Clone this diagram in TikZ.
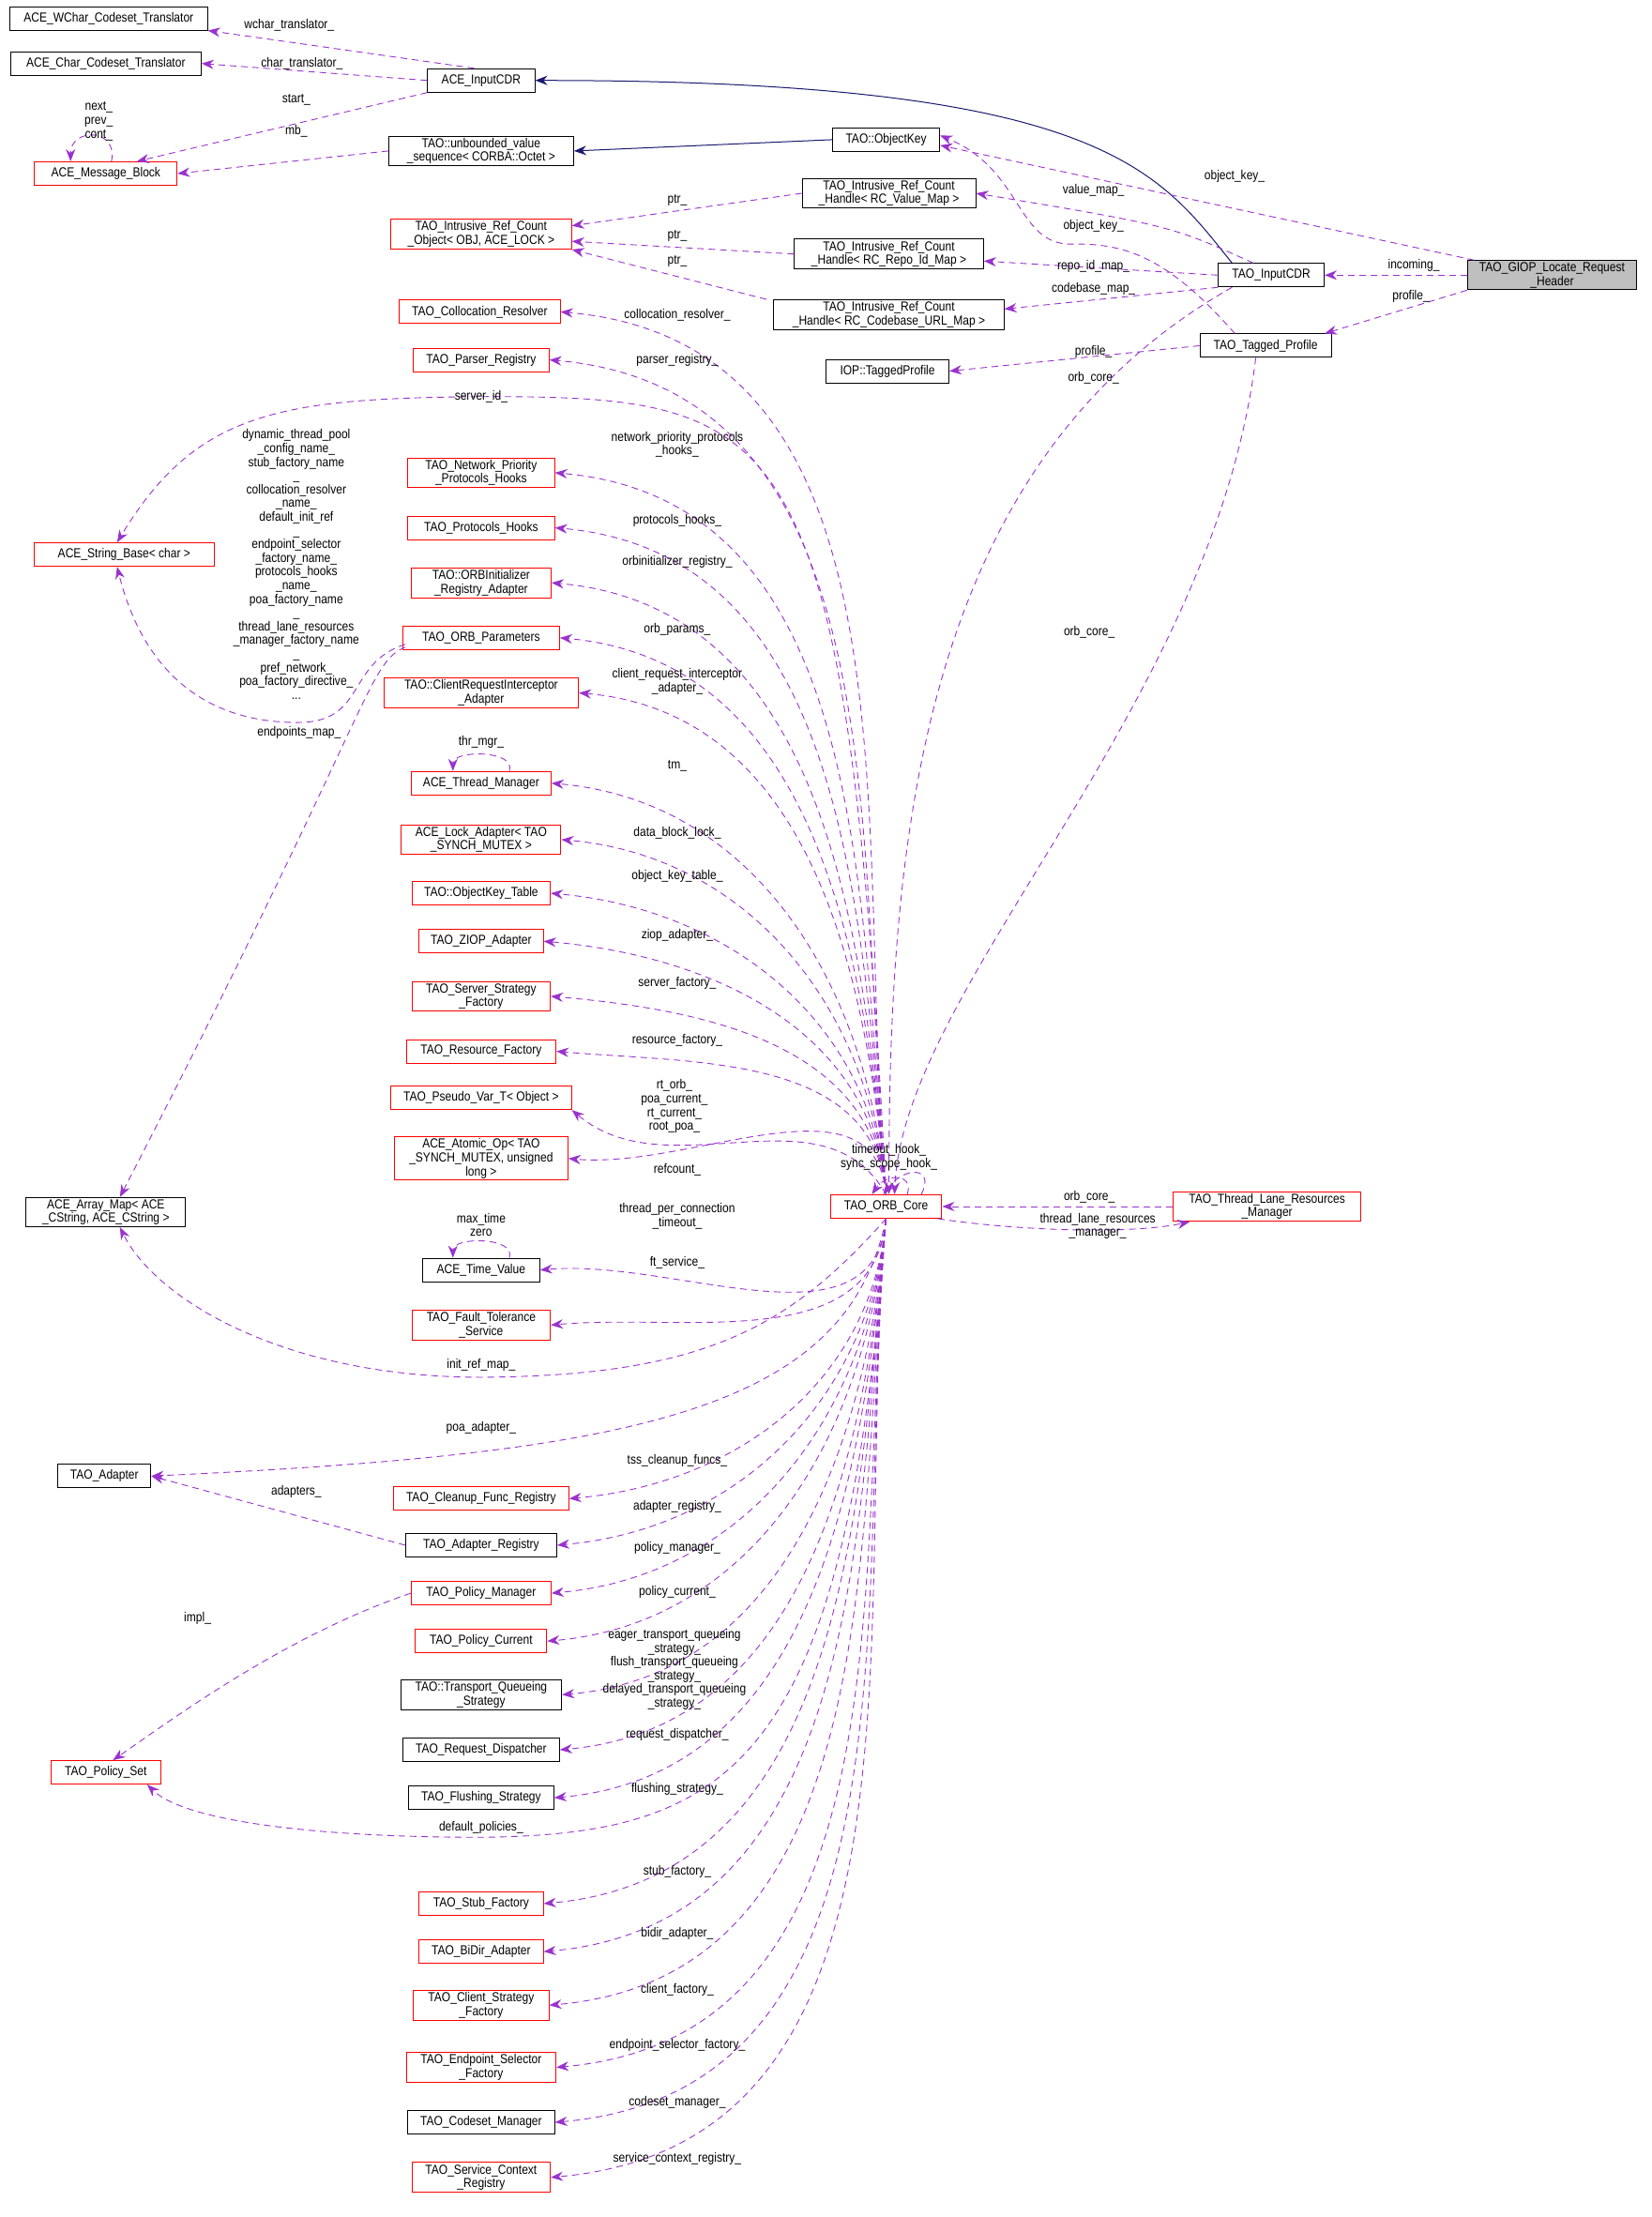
\documentclass[tikz,border=0pt]{standalone}
\usepackage{fontspec}
\setmainfont[FakeStretch=0.86]{Liberation Sans}
\usetikzlibrary{arrows.meta,calc}
\definecolor{dep}{HTML}{9A32CD}
\definecolor{inh}{HTML}{191970}
\begin{document}
\begin{tikzpicture}[x=1.504pt,y=-1.504pt,
  every node/.style={font=\fontsize{14}{14.6}\selectfont,align=center,inner sep=2pt},
  box/.style={draw=black,line width=1pt,fill=white,minimum height=25pt},
  rbox/.style={box,draw=red},
  bw/.style={minimum width=#1*1.504pt},
  dep/.style={draw=dep,line width=0.9pt,dash pattern=on 7pt off 5pt,-{Stealth[length=13pt,width=10pt,fill=dep]}},
  inhe/.style={draw=inh,line width=1pt,-{Stealth[length=13pt,width=10pt,fill=inh]}},
  lab/.style={inner sep=0pt}]
\fill[white] (0,0) rectangle (1170.2,1571.1);
\useasboundingbox (0,0) rectangle (1170.2,1571.1);
% left column
\node[box,bw=140] (wchar) at (77,13) {ACE\_WChar\_Codeset\_Translator};
\node[box,bw=135] (char) at (75,45) {ACE\_Char\_Codeset\_Translator};
\node[rbox,bw=101] (mb) at (75,123) {ACE\_Message\_Block};
\node[rbox,bw=128] (sb) at (88,393) {ACE\_String\_Base< char >};
\node[box,bw=113] (am) at (75,859) {ACE\_Array\_Map< ACE\\\_CString, ACE\_CString >};
\node[box,bw=66] (ad) at (74,1046) {TAO\_Adapter};
\node[rbox,bw=78] (ps) at (75,1256) {TAO\_Policy\_Set};
% column 2
\node[box,bw=76] (aic) at (341,57) {ACE\_InputCDR};
\node[box,bw=131] (ubs) at (341,107) {TAO::unbounded\_value\\\_sequence< CORBA::Octet >};
\node[rbox,bw=128] (iro) at (341,166) {TAO\_Intrusive\_Ref\_Count\\\_Object< OBJ, ACE\_LOCK >};
\node[rbox,bw=114] (t1) at (340,221) {TAO\_Collocation\_Resolver};
\node[rbox,bw=96] (t2) at (341,255) {TAO\_Parser\_Registry};
\node[rbox,bw=104] (t3) at (341,335) {TAO\_Network\_Priority\\\_Protocols\_Hooks};
\node[rbox,bw=104] (t4) at (341,374) {TAO\_Protocols\_Hooks};
\node[rbox,bw=99] (t5) at (341,413) {TAO::ORBInitializer\\\_Registry\_Adapter};
\node[rbox,bw=111] (t6) at (341,452) {TAO\_ORB\_Parameters};
\node[rbox,bw=138] (t7) at (341,491) {TAO::ClientRequestInterceptor\\\_Adapter};
\node[rbox,bw=99] (t8) at (341,555) {ACE\_Thread\_Manager};
\node[rbox,bw=113] (t9) at (341,595) {ACE\_Lock\_Adapter< TAO\\\_SYNCH\_MUTEX >};
\node[rbox,bw=98] (t10) at (341,633) {TAO::ObjectKey\_Table};
\node[rbox,bw=88] (t11) at (341,667) {TAO\_ZIOP\_Adapter};
\node[rbox,bw=98] (t12) at (341,706) {TAO\_Server\_Strategy\\\_Factory};
\node[rbox,bw=106] (t13) at (341,745) {TAO\_Resource\_Factory};
\node[rbox,bw=128] (t14) at (341,778) {TAO\_Pseudo\_Var\_T< Object >};
\node[rbox,bw=123] (t15) at (341,821) {ACE\_Atomic\_Op< TAO\\\_SYNCH\_MUTEX, unsigned\\ long >};
\node[box,bw=83] (t16) at (341,900) {ACE\_Time\_Value};
\node[rbox,bw=98] (t17) at (341,939) {TAO\_Fault\_Tolerance\\\_Service};
\node[rbox,bw=124] (t18) at (341,1062) {TAO\_Cleanup\_Func\_Registry};
\node[box,bw=107] (t19) at (341,1095) {TAO\_Adapter\_Registry};
\node[rbox,bw=99] (t20) at (341,1129) {TAO\_Policy\_Manager};
\node[rbox,bw=93] (t21) at (341,1163) {TAO\_Policy\_Current};
\node[box,bw=114] (t22) at (341,1201) {TAO::Transport\_Queueing\\\_Strategy};
\node[box,bw=111] (t23) at (341,1240) {TAO\_Request\_Dispatcher};
\node[box,bw=103] (t24) at (341,1274) {TAO\_Flushing\_Strategy};
\node[rbox,bw=88] (t25) at (341,1349) {TAO\_Stub\_Factory};
\node[rbox,bw=88] (t26) at (341,1383) {TAO\_BiDir\_Adapter};
\node[rbox,bw=96] (t27) at (341,1421) {TAO\_Client\_Strategy\\\_Factory};
\node[rbox,bw=106] (t28) at (341,1465) {TAO\_Endpoint\_Selector\\\_Factory};
\node[box,bw=104] (t29) at (341,1504) {TAO\_Codeset\_Manager};
\node[rbox,bw=98] (t30) at (341,1543) {TAO\_Service\_Context\\\_Registry};
% column 3
\node[box,bw=76] (ok) at (628,99) {TAO::ObjectKey};
\node[box,bw=123] (rcv) at (630,137) {TAO\_Intrusive\_Ref\_Count\\\_Handle< RC\_Value\_Map >};
\node[box,bw=134] (rcr) at (630,180) {TAO\_Intrusive\_Ref\_Count\\\_Handle< RC\_Repo\_Id\_Map >};
\node[box,bw=163] (rcc) at (630,223) {TAO\_Intrusive\_Ref\_Count\\\_Handle< RC\_Codebase\_URL\_Map >};
\node[box,bw=87] (iop) at (629,263) {IOP::TaggedProfile};
\node[rbox,bw=79] (oc) at (628,855) {TAO\_ORB\_Core};
\node[rbox,bw=133] (tl) at (898,855) {TAO\_Thread\_Lane\_Resources\\\_Manager};
% column 4
\node[box,bw=75] (tic) at (901,195) {TAO\_InputCDR};
\node[box,bw=93] (tp) at (897,245) {TAO\_Tagged\_Profile};
\node[box,bw=120,fill=black!25] (giop) at (1100,195) {TAO\_GIOP\_Locate\_Request\\\_Header};
% inheritance
\draw[inhe] ($(tic.north west)+(10,0)$) .. controls (820,120) and (780,57) .. (aic.east);
\draw[inhe] (ok.west) -- (ubs.east);
% top-left edges
\draw[dep] ($(aic.north)+(-5,0)$) -- (wchar.south east);
\draw[dep] (aic.west) -- (char.east);
\draw[dep] (aic.south west) -- ($(mb.north)+(22,0)$);
\draw[dep] (ubs.west) -- (mb.east);
\draw[dep] ($(mb.north)+(4,0)$) .. controls +(5,-24) and +(0,-24) .. ($(mb.north)+(-25,0)$);
\node[lab] at (70,86) {next\_\\prev\_\\cont\_};
\node[lab] at (205,18) {wchar\_translator\_};
\node[lab] at (214,45) {char\_translator\_};
\node[lab] at (210,71) {start\_};
\node[lab] at (210,93) {mb\_};
% ref count handles
\draw[dep] (rcv.west) -- ($(iro.east)+(0,-6)$);
\node[lab] at (480,142) {ptr\_};
\draw[dep] (rcr.west) -- ($(iro.east)+(0,5)$);
\node[lab] at (480,167) {ptr\_};
\draw[dep] ($(rcc.north west)+(-5,0)$) -- (iro.south east);
\node[lab] at (480,185) {ptr\_};
% TAO_InputCDR
\draw[dep] ($(tic.north west)+(25,0)$) .. controls (830,160) .. (rcv.east);
\node[lab] at (775,135) {value\_map\_};
\draw[dep] (tic.west) -- ($(rcr.east)+(0,5)$);
\node[lab] at (775,189) {repo\_id\_map\_};
\draw[dep] (tic.south west) -- ($(rcc.east)+(0,-4)$);
\node[lab] at (775,205) {codebase\_map\_};
\draw[dep] ($(tic.south west)+(10,0)$) .. controls (650,330) and (630,600) .. ($(oc.north)+(2,0)$);
\node[lab] at (775,268) {orb\_core\_};
% GIOP
\draw[dep] ($(giop.north west)+(5,0)$) -- ($(ok.east)+(0,4)$);
\node[lab] at (875,125) {object\_key\_};
\draw[dep] (giop.west) -- (tic.east);
\node[lab] at (1002,188) {incoming\_};
\draw[dep] (giop.south west) -- ($(tp.north east)+(-5,0)$);
\node[lab] at (1000,210) {profile\_};
% Tagged profile
\draw[dep] ($(tp.north west)+(25,0)$) .. controls (830,185) and (800,172) .. (760,173) .. controls (720,174) and (725,120) .. ($(ok.east)+(0,-3)$);
\node[lab] at (775,160) {object\_key\_};
\draw[dep] (tp.west) -- (iop.east);
\node[lab] at (775,249) {profile\_};
\draw[dep] ($(tp.south)+(-7,0)$) .. controls (860,500) and (640,700) .. ($(oc.north)+(6,0)$);
\node[lab] at (772,448) {orb\_core\_};
% orb core -> column 2 (above)
\foreach \t/\l/\ly in {t1/collocation\_resolver\_/223, t2/parser\_registry\_/255, t3/{network\_priority\_protocols\\\_hooks\_}/315, t4/protocols\_hooks\_/369, t5/orbinitializer\_registry\_/398, t6/orb\_params\_/446, t7/{client\_request\_interceptor\\\_adapter\_}/483, t8/tm\_/543, t9/data\_block\_lock\_/590, t10/object\_key\_table\_/621, t11/ziop\_adapter\_/663, t12/server\_factory\_/697, t13/resource\_factory\_/737, t15/refcount\_/829}{
  \draw[dep] (oc.north) to[out=95,in=-5] (\t.east);
  \node[lab] at (480,\ly) {\l};
}
\draw[dep] (oc.north) to[out=120,in=-40] (t14.south east);
\node[lab] at (478,784) {rt\_orb\_\\poa\_current\_\\rt\_current\_\\root\_poa\_};
% below
\foreach \t/\l/\ly in {t16/{thread\_per\_connection\\\_timeout\_}/862, t17/ft\_service\_/895, t18/tss\_cleanup\_funcs\_/1035, t19/adapter\_registry\_/1068, t20/policy\_manager\_/1097, t21/policy\_current\_/1128, t23/request\_dispatcher\_/1229, t24/flushing\_strategy\_/1268, t25/stub\_factory\_/1326, t26/bidir\_adapter\_/1370, t27/client\_factory\_/1410, t28/endpoint\_selector\_factory\_/1449, t29/codeset\_manager\_/1490, t30/service\_context\_registry\_/1530}{
  \draw[dep] (oc.south) to[out=-95,in=5] (\t.east);
  \node[lab] at (480,\ly) {\l};
}
\draw[dep] (oc.south) to[out=-95,in=5] (t22.east);
\node[lab] at (478,1183) {eager\_transport\_queueing\\\_strategy\_\\flush\_transport\_queueing\\\_strategy\_\\delayed\_transport\_queueing\\\_strategy\_};
% self loops
\draw[dep] ($(t8.north)+(20,0)$) .. controls +(5,-15) and +(0,-15) .. ($(t8.north)+(-20,0)$);
\node[lab] at (341,526) {thr\_mgr\_};
\draw[dep] ($(t16.north)+(20,0)$) .. controls +(5,-15) and +(0,-15) .. ($(t16.north)+(-20,0)$);
\node[lab] at (341,868) {max\_time\\zero};
\draw[dep] ($(oc.north)+(15,0)$) .. controls +(5,-15) and +(10,-15) .. ($(oc.north)+(-10,0)$);
\draw[dep] ($(oc.north)+(25,0)$) .. controls +(10,-20) and +(15,-20) .. ($(oc.north)+(-2,0)$);
\node[lab] at (630,820) {timeout\_hook\_\\sync\_scope\_hook\_};
% thread lane
\draw[dep] (tl.west) -- (oc.east);
\node[lab] at (772,848) {orb\_core\_};
\draw[dep] ($(oc.south east)+(-3,0)$) .. controls (720,872) and (800,875) .. ($(tl.south west)+(12,0)$);
\node[lab] at (778,869) {thread\_lane\_resources\\\_manager\_};
% string base
\draw[dep] (oc.north) .. controls (600,300) and (560,282) .. (350,281) .. controls (200,282) and (140,290) .. ($(sb.north)+(-5,0)$);
\node[lab] at (341,281) {server\_id\_};
\draw[dep] ($(t6.south west)+(2,-4)$) .. controls (245,470) and (260,512) .. (211,512) .. controls (140,512) and (100,470) .. ($(sb.south)+(-5,0)$);
\node[lab] at (210,400) {dynamic\_thread\_pool\\\_config\_name\_\\stub\_factory\_name\\\_\\collocation\_resolver\\\_name\_\\default\_init\_ref\\\_\\endpoint\_selector\\\_factory\_name\_\\protocols\_hooks\\\_name\_\\poa\_factory\_name\\\_\\thread\_lane\_resources\\\_manager\_factory\_name\\\_\\pref\_network\_\\poa\_factory\_directive\_\\...};
\draw[dep] ($(t6.south west)+(2,-2)$) .. controls (260,470) and (265,500) .. ($(am.north)+(10,0)$);
\node[lab] at (212,519) {endpoints\_map\_};
\draw[dep] (oc.south) .. controls (560,940) and (500,975) .. (341,976) .. controls (200,976) and (110,920) .. ($(am.south)+(10,0)$);
\node[lab] at (341,967) {init\_ref\_map\_};
\draw[dep] (oc.south) .. controls (600,1000) and (450,1030) .. (ad.east);
\node[lab] at (341,1012) {poa\_adapter\_};
\draw[dep] (t19.west) -- (ad.east);
\node[lab] at (210,1057) {adapters\_};
\draw[dep] (t20.west) .. controls (200,1160) and (120,1220) .. ($(ps.north)+(5,0)$);
\node[lab] at (140,1147) {impl\_};
\draw[dep] (oc.south) .. controls (600,1250) and (520,1300) .. (341,1302) .. controls (220,1302) and (130,1290) .. ($(ps.south east)+(-10,0)$);
\node[lab] at (341,1295) {default\_policies\_};
\end{tikzpicture}
\end{document}
